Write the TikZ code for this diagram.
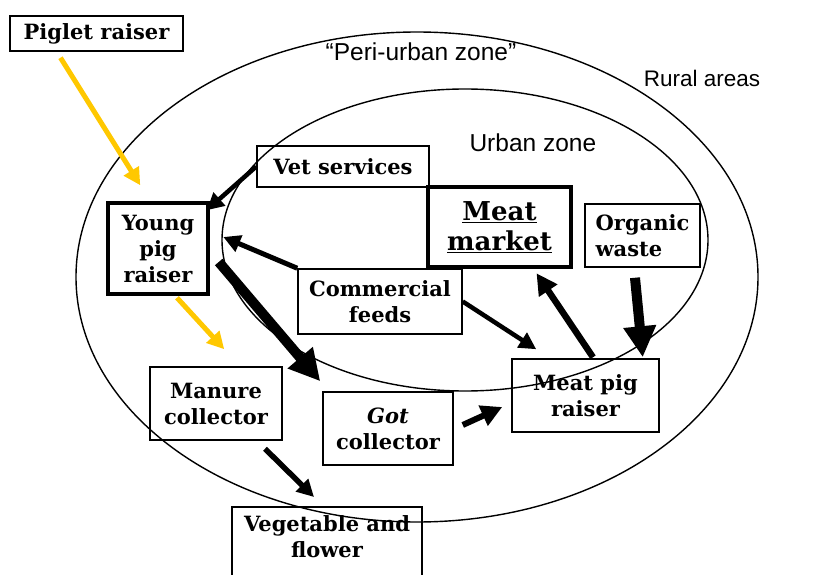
\documentclass[tikz,border=0pt]{standalone}
\usepackage{fontspec}
\setmainfont{DejaVu Serif}
\setsansfont{Liberation Sans}
\usepackage{xcolor}
\usetikzlibrary{arrows.meta,calc,shapes.geometric}

\definecolor{pigyellow}{RGB}{255,200,0}

\tikzset{
  actor/.style={draw, line width=1.5pt, align=center, inner sep=0pt,
    font=\bfseries\fontsize{21}{26}\selectfont},
  keyactor/.style={actor, line width=3.5pt},
  zonelabel/.style={font=\sffamily\fontsize{24.5}{28}\selectfont},
  zoneline/.style={draw, ellipse, line width=1.4pt, inner sep=0pt},
  thinflow/.style={-{Triangle[length=17pt,width=17pt]}, line width=5pt},
  midflow/.style={-{Triangle[length=21pt,width=21pt]}, line width=6.5pt},
  bigflow/.style={-{Triangle[length=31pt,width=31pt]}, line width=10pt},
  pigletflow/.style={thinflow, pigyellow}
}

\begin{document}
\begin{tikzpicture}[x=1pt, y=-1pt]
\useasboundingbox (0,0) rectangle (828,575);
\begin{scope}
\clip (0,0) rectangle (828,575);
% --- zones ---
\node[zoneline, minimum width=682, minimum height=490] (periurban) at (417,277) {};
\node[zoneline, minimum width=486, minimum height=302] (urban) at (465,240) {};
\node[zonelabel] (perilab) at (421,52) {“Peri-urban zone”};
\node[zonelabel, font=\sffamily\fontsize{22.5}{27}\selectfont] (rurallab) at (702,78) {Rural areas};
\node[zonelabel, anchor=west] (urbanlab) at (466,143) {Urban zone};
% --- actors ---
\node[actor, minimum width=173, minimum height=35] (piglet) at (96.5,33.5) {Piglet raiser};
\node[actor, minimum width=172, minimum height=41] (vet) at (343,166.5) {Vet services};
\node[keyactor, minimum width=100, minimum height=91] (young) at (158,248.5) {Young\\pig\\raiser};
\node[actor, line width=4.5pt, minimum width=143, minimum height=80,
  font=\bfseries\fontsize{26}{30}\selectfont] (market) at (499.5,227) {\underline{Meat}\\\underline{market}};
\node[actor, align=left, minimum width=115, minimum height=63] (organic) at (642.5,235.5) {Organic\\waste};
\node[actor, minimum width=164, minimum height=65] (feeds) at (380,301.5) {Commercial\\feeds};
\node[actor, minimum width=147, minimum height=73] (meatpig) at (585.5,395.5) {Meat pig\\raiser};
\node[actor, minimum width=132, minimum height=73] (manure) at (216,403.5) {Manure\\collector};
\node[actor, minimum width=130, minimum height=73] (got) at (388,428.5) {\textit{Got}\\collector};
\node[actor, anchor=north, minimum width=190, inner ysep=9pt, text depth=40pt] (veg) at (327,506) {Vegetable and\\flower};
% --- flows ---
\draw[pigletflow] ($(piglet.south)+(-36,6)$) -- ($(young.north west)+(34,-16)$);
\draw[pigletflow] ($(young.south)+(19,2)$) -- ($(manure.north west)+(75,-17)$);
\draw[thinflow, line width=4.5pt] (vet.west) -- ($(young.north east)+(-3,9)$);
\draw[thinflow] (feeds.north west) -- ($(urban.west)+(2,-3)$);
\draw[bigflow] ($(young.east)+(9,13.5)$) -- ($(got.north west)+(-2,-10)$);
\draw[thinflow, line width=4.5pt] (feeds.east) -- ($(meatpig.north west)+(25,-9)$);
\draw[midflow] ($(meatpig.north)+(7.5,-1)$) -- ($(market.south)+(37,4)$);
\draw[bigflow] ($(organic.south)+(-7.5,10)$) -- ($(meatpig.north east)+(-17,-1)$);
\draw[midflow, line width=6pt] ($(got.east)+(9,-3.5)$) -- ($(meatpig.west)+(-9,11.5)$);
\draw[thinflow, line width=5.5pt] ($(manure.south)+(49,8)$) -- ($(veg.north)+(-13,-9)$);
\end{scope}
\end{tikzpicture}
\end{document}
